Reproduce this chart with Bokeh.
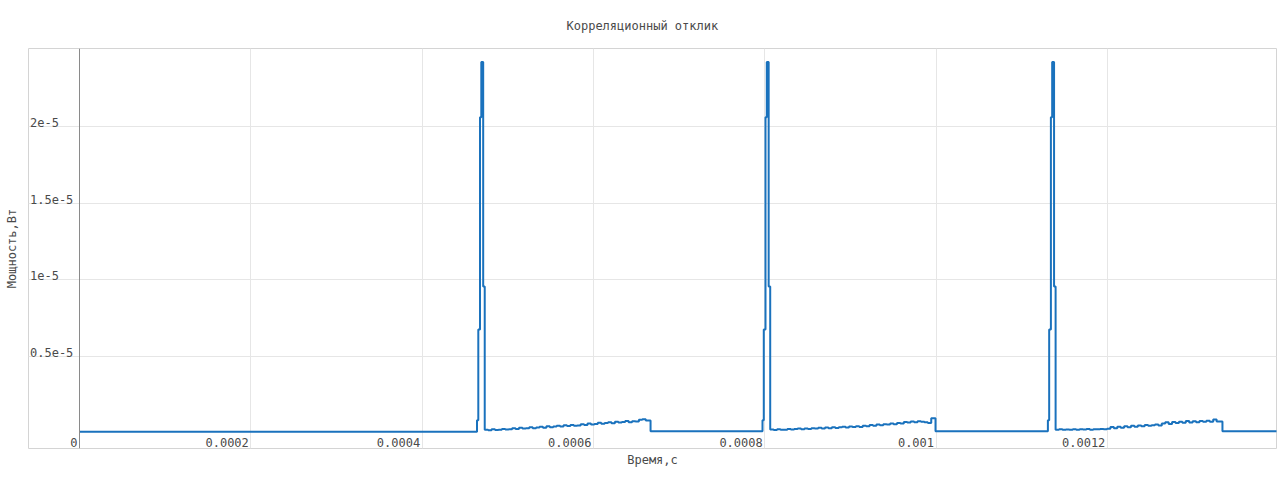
import numpy as np
from bokeh.plotting import figure
from bokeh.models import Span, FixedTicker, Range1d, ColumnDataSource
from bokeh.core.properties import value
from bokeh.embed import file_html
from bokeh.resources import INLINE

TITLE = "Корреляционный отклик"
X_LABEL = "Время,с"
Y_LABEL = "Мощность,Вт"

x_ticks = [0.0, 0.0002, 0.0004, 0.0006, 0.0008, 0.001, 0.0012]
x_tick_labels = ["0", "0.0002", "0.0004", "0.0006", "0.0008", "0.001", "0.0012"]
y_ticks = [0.5e-5, 1e-5, 1.5e-5, 2e-5]
y_tick_labels = ["0.5e-5", "1e-5", "1.5e-5", "2e-5"]

# start time of each correlation peak (s)
peak_start = [0.0004641, 0.0007974, 0.0011306]
# peak shape: time offsets from peak start (s) and power levels (W)
peak_dt = [0.0, 1.5e-6, 3.5e-6, 5.0e-6, 7.2e-6]
peak_level = [8.5e-7, 6.76e-6, 2.06e-5, 2.42e-5, 9.57e-6]

# side-lobe segments after each peak, sampled every 4 us, in units of 1e-7 W
noise_offset = 9.0e-6
noise_dt = 4.0e-6
noise_1 = [2.3, 2.0, 2.6, 2.1, 2.2, 2.8, 2.4, 2.6, 3.3, 2.8,
           3.5, 3.0, 3.2, 3.9, 3.3, 3.7, 4.2, 3.6, 4.5, 3.9,
           4.3, 4.9, 4.4, 5.2, 4.7, 5.4, 4.8, 5.0, 5.9, 5.3,
           6.3, 5.7, 6.0, 6.8, 6.2, 6.6, 7.2, 6.5, 7.4, 6.9,
           7.3, 7.9, 7.1, 7.8, 7.6, 8.7, 9.1, 8.3]
noise_2 = [2.4, 2.1, 2.6, 2.3, 2.2, 2.8, 2.4, 2.7, 3.1, 2.6,
           3.0, 2.7, 3.3, 3.0, 3.5, 3.1, 3.7, 3.3, 3.9, 3.4,
           3.8, 4.2, 3.7, 4.4, 4.0, 4.5, 4.1, 4.8, 4.6, 5.3,
           4.9, 5.6, 5.2, 5.9, 5.7, 6.4, 5.9, 6.7, 6.4, 7.3,
           6.9, 7.6, 7.1, 7.8, 7.4, 7.2, 6.7, 9.7]
noise_3 = [2.3, 2.5, 2.2, 2.4, 2.3, 2.6, 2.2, 2.5, 2.4, 2.7,
           2.3, 2.6, 2.5, 2.8, 2.5, 2.9, 4.1, 3.3, 4.2, 3.6,
           4.6, 3.9, 4.8, 4.2, 5.1, 4.6, 5.4, 4.8, 5.2, 5.6,
           5.0, 6.3, 7.1, 6.0, 7.3, 6.6, 7.4, 6.8, 7.9, 7.0,
           7.8, 7.2, 8.0, 7.4, 8.1, 7.5, 9.0, 7.6]
noise_unit = 1e-7
noise_end = [0.0006667, 0.0009994, 0.0013344]
# quiet baseline level before first peak and after each side-lobe segment (W)
baseline = [1.0e-7, 1.3e-7, 1.3e-7, 1.3e-7]
t_start = 0.0
t_end = 0.0014

# ---- assemble the stepped series ----
t = [t_start]
v = [baseline[0]]
for k, noise in enumerate([noise_1, noise_2, noise_3]):
    for dt, lvl in zip(peak_dt, peak_level):
        t.append(peak_start[k] + dt)
        v.append(lvl)
    for j, val in enumerate(noise):
        t.append(peak_start[k] + noise_offset + j * noise_dt)
        v.append(val * noise_unit)
    t.append(noise_end[k])
    v.append(baseline[k + 1])
t.append(t_end)
v.append(baseline[-1])

src = ColumnDataSource(dict(t=t, v=v))

X_MIN, X_MAX = -0.00005955, 0.0013975
Y_MIN, Y_MAX = -0.998e-6, 2.5088e-5

FONT = "DejaVu Sans Mono"
TXT = "#4a4a4a"

p = figure(width=1280, height=477, output_backend="svg", toolbar_location=None,
           x_range=Range1d(X_MIN, X_MAX), y_range=Range1d(Y_MIN, Y_MAX),
           min_border_left=28, min_border_right=4, min_border_top=48, min_border_bottom=29)

p.background_fill_color = "white"
p.border_fill_color = "white"
p.outline_line_color = "#d4d4d4"
p.outline_line_width = 1

# title
p.title.text = TITLE
p.title.align = "left"
p.title.text_font = FONT
p.title.text_font_size = "12px"
p.title.text_font_style = "normal"
p.title.text_color = TXT
p.title.standoff = 31
p.title.offset = 538

# axes: only the labels are shown outside; tick labels are drawn inside
for ax in (p.xaxis[0], p.yaxis[0]):
    ax.ticker = FixedTicker(ticks=[])
    ax.axis_line_color = None
    ax.major_tick_line_color = None
    ax.minor_tick_line_color = None
    ax.axis_label_text_font = FONT
    ax.axis_label_text_font_size = "12px"
    ax.axis_label_text_font_style = "normal"
    ax.axis_label_text_color = TXT
p.xaxis[0].axis_label = X_LABEL
p.xaxis[0].axis_label_standoff = 4
p.yaxis[0].axis_label = Y_LABEL
p.yaxis[0].axis_label_standoff = 10

p.xgrid[0].ticker = FixedTicker(ticks=x_ticks[1:])
p.ygrid[0].ticker = FixedTicker(ticks=y_ticks)
p.xgrid[0].grid_line_color = "#e6e6e6"
p.ygrid[0].grid_line_color = "#e6e6e6"

# zero axis line
p.add_layout(Span(location=0, dimension="height", line_color="#8a8a8a", line_width=1))

p.step(x="t", y="v", source=src, mode="after", line_color="#1a72bd", line_width=2)

# tick labels
p.text(x=x_ticks, y=[0.0] * len(x_ticks), text=x_tick_labels,
       text_align="right", text_baseline="alphabetic", x_offset=-2, y_offset=9,
       text_font=value(FONT), text_font_size="12px", text_color=TXT)
p.text(x=[X_MIN] * len(y_ticks), y=y_ticks, text=y_tick_labels,
       text_align="left", text_baseline="alphabetic", x_offset=1.5, y_offset=-4,
       text_font=value(FONT), text_font_size="12px", text_color=TXT)

open("out.html", "w").write(file_html(p, INLINE))
